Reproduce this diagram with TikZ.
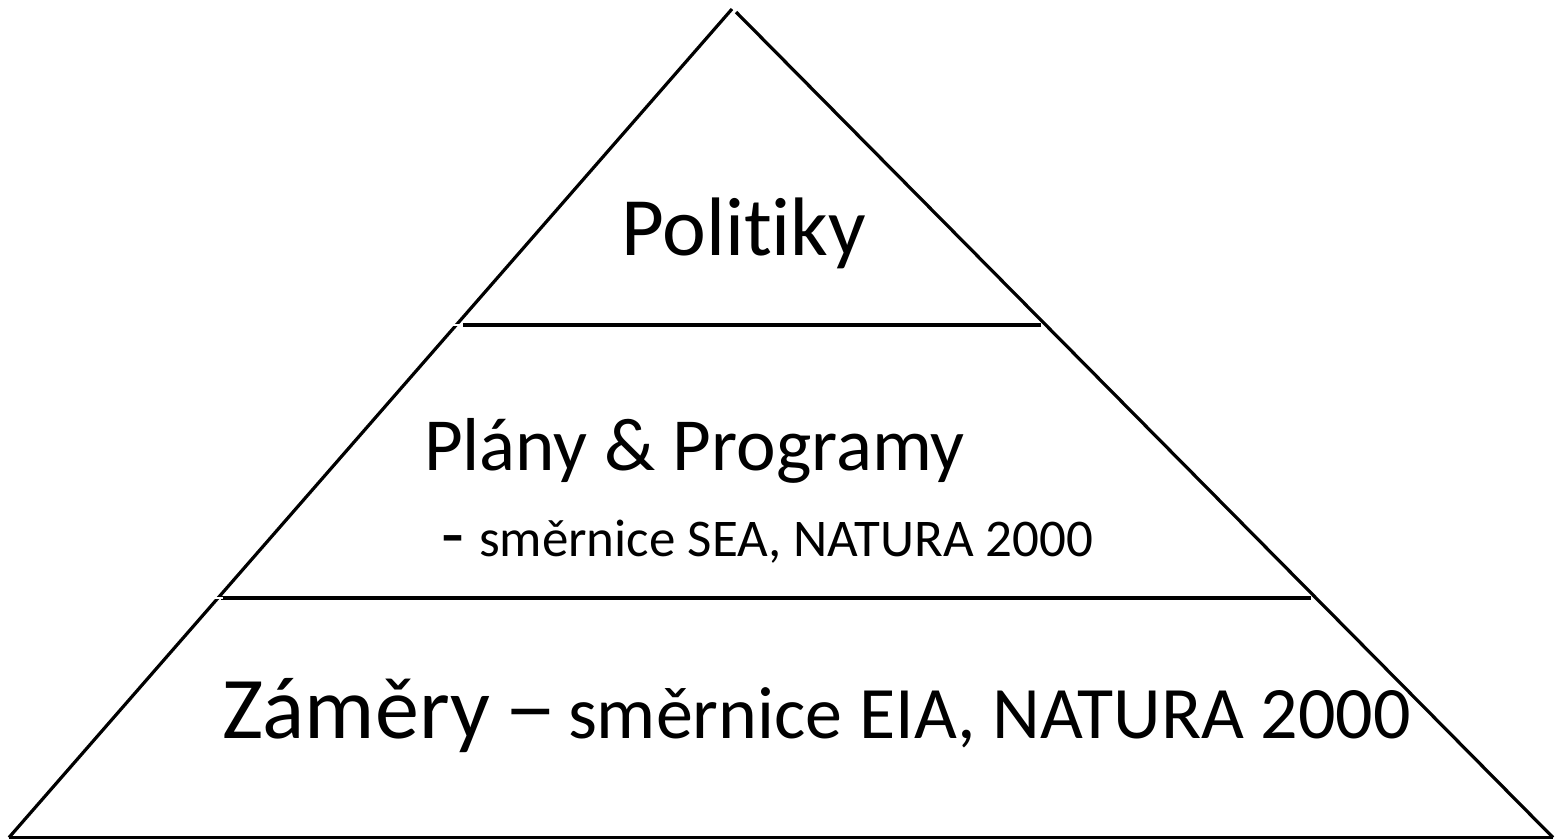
\documentclass[tikz,border=0pt]{standalone}
\usepackage{fontspec}
\setmainfont[Ligatures=NoCommon]{Carlito}
\begin{document}
\begin{tikzpicture}[x=1pt,y=-1pt,
  edge/.style={line width=3.2pt,black},
  gapmark/.style={line width=1.6pt,white},
  lbl/.style={inner sep=0pt,outer sep=0pt,anchor=base west}]
\useasboundingbox[fill=white] (0,0) rectangle (1560,840);
% corners
\coordinate (apexL) at (732,9);
\coordinate (apexR) at (736,12);
\coordinate (bl) at (9,837.5);
\coordinate (br) at (1553,837.5);
\coordinate (h1a) at (463,325);
\coordinate (h1b) at (1041,325);
\coordinate (h2a) at (221,598);
\coordinate (h2b) at (1311,598);
\coordinate (g1a) at (451,325);
\coordinate (g1b) at (462,325);
\coordinate (g2a) at (214,598);
\coordinate (g2b) at (223,598);
% sides
\draw[edge] (apexL) -- (bl);
\draw[edge] (apexR) -- (br);
\draw[edge] (bl) -- (br);
\draw[edge] (h1a) -- (h1b);
\draw[edge] (h2a) -- (h2b);
\draw[gapmark] (g1a) -- (g1b);
\draw[gapmark] (g2a) -- (g2b);
% texts
\node[lbl,font=\fontsize{83}{90}\selectfont] (pol) at (621,255) {Politiky};
\node[lbl,font=\fontsize{75}{80}\selectfont] (plan) at (424,470) {Plány \& Programy};
\node[lbl,font=\fontsize{75}{80}\selectfont] (dash) at (441,559) {-};
\node[lbl,font=\fontsize{53}{60}\selectfont] (sea) at (479,556) {směrnice SEA, NATURA 2000};
\node[lbl,font=\fontsize{88}{90}\selectfont] (zam) at (222,738) {Záměry};
\node[lbl,font=\fontsize{88}{90}\selectfont] (zdash) at (504,736) {\scalebox{1.2}[1]{–}};
\node[lbl,font=\fontsize{74}{80}\selectfont] (eia) at (568,738) {směrnice EIA, NATURA 2000};
\end{tikzpicture}
\end{document}
